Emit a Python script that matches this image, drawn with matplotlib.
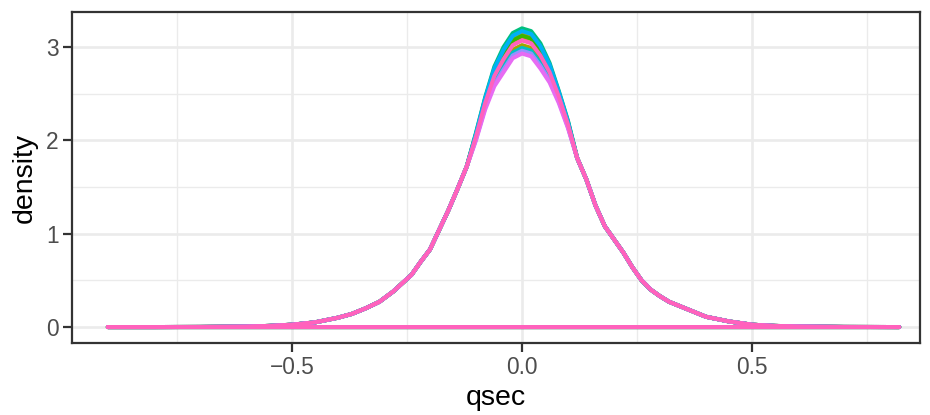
import matplotlib
matplotlib.use('Agg')
import matplotlib.pyplot as plt
from matplotlib.ticker import MultipleLocator

plt.rcParams['font.family'] = ['Liberation Sans', 'DejaVu Sans']

qsec_left = [-0.9, -0.8, -0.7, -0.6, -0.55, -0.5, -0.45, -0.4, -0.37, -0.34,
             -0.31, -0.28, -0.26, -0.24, -0.22, -0.2, -0.18, -0.16, -0.14, -0.12]
qsec_peak = [-0.1, -0.08, -0.06, -0.04, -0.02, 0.0, 0.02, 0.04, 0.06, 0.08, 0.1]
qsec_right = [0.12, 0.14, 0.16, 0.18, 0.2, 0.22, 0.24, 0.26, 0.28, 0.3, 0.32,
              0.34, 0.37, 0.4, 0.45, 0.5, 0.55, 0.6, 0.7, 0.82]

# the flanks of all groups coincide
dens_left = [0, 0, 0.001, 0.005, 0.012, 0.025, 0.05, 0.10, 0.14, 0.20,
             0.27, 0.38, 0.47, 0.56, 0.70, 0.83, 1.04, 1.25, 1.48, 1.72]
dens_right = [1.81, 1.58, 1.30, 1.08, 0.94, 0.80, 0.64, 0.50, 0.40, 0.33, 0.27,
              0.23, 0.17, 0.11, 0.06, 0.025, 0.012, 0.006, 0.001, 0]

# peak part of each group (ggplot hue colours, drawing order)
peak_f8766d = [2.05, 2.41, 2.71, 2.89, 3.04, 3.09, 3.06, 2.93, 2.75, 2.48, 2.18]
peak_d89000 = [2.06, 2.44, 2.75, 2.94, 3.09, 3.14, 3.11, 2.98, 2.79, 2.51, 2.19]
peak_a3a500 = [2.03, 2.38, 2.65, 2.82, 2.97, 3.02, 2.99, 2.86, 2.69, 2.45, 2.16]
peak_39b600 = [2.06, 2.42, 2.73, 2.92, 3.07, 3.12, 3.09, 2.96, 2.77, 2.49, 2.19]
peak_00bf7d = [2.08, 2.46, 2.79, 3.00, 3.15, 3.20, 3.17, 3.04, 2.83, 2.53, 2.21]
peak_00bfc4 = [2.02, 2.36, 2.63, 2.79, 2.94, 2.99, 2.96, 2.83, 2.67, 2.43, 2.15]
peak_00b0f6 = [2.07, 2.45, 2.77, 2.97, 3.12, 3.17, 3.14, 3.01, 2.81, 2.52, 2.20]
peak_9590ff = [2.01, 2.35, 2.60, 2.76, 2.91, 2.96, 2.93, 2.80, 2.64, 2.42, 2.14]
peak_e76bf3 = [2.00, 2.33, 2.58, 2.73, 2.88, 2.93, 2.90, 2.77, 2.62, 2.40, 2.13]
peak_ff62bc = [2.04, 2.40, 2.69, 2.87, 3.02, 3.07, 3.04, 2.91, 2.73, 2.47, 2.17]

groups = [
    ('#F8766D', peak_f8766d),
    ('#D89000', peak_d89000),
    ('#A3A500', peak_a3a500),
    ('#39B600', peak_39b600),
    ('#00BF7D', peak_00bf7d),
    ('#00BFC4', peak_00bfc4),
    ('#00B0F6', peak_00b0f6),
    ('#9590FF', peak_9590ff),
    ('#E76BF3', peak_e76bf3),
    ('#FF62BC', peak_ff62bc),
]

fig = plt.figure(figsize=(9.3, 4.15), dpi=100)
ax = fig.add_axes([0.0774, 0.1735, 0.9118, 0.7976])

qsec = qsec_left + qsec_peak + qsec_right
for color, peak in groups:
    dens = dens_left + peak + dens_right
    # closed outline like geom_density's polygon (curve + baseline)
    xs = qsec + [qsec[-1], qsec[0], qsec[0]]
    ys = dens + [0, 0, dens[0]]
    ax.plot(xs, ys, color=color, lw=2.9, solid_joinstyle='round',
            solid_capstyle='round', zorder=3)

ax.set_xlim(-0.978, 0.865)
ax.set_ylim(-0.171, 3.375)

ax.xaxis.set_minor_locator(MultipleLocator(0.25))
ax.yaxis.set_major_locator(MultipleLocator(1))
ax.yaxis.set_minor_locator(MultipleLocator(0.5))
ax.set_xticks([-0.5, 0, 0.5])
ax.set_xticklabels(['\u22120.5', '0.0', '0.5'])

ax.grid(which='major', color='#EBEBEB', lw=1.9, zorder=0)
ax.grid(which='minor', color='#EBEBEB', lw=0.95, zorder=0)
ax.set_axisbelow(True)

for sp in ax.spines.values():
    sp.set_color('#333333')
    sp.set_linewidth(1.6)

ax.tick_params(which='major', length=6.5, width=1.6, color='#333333',
               labelsize=16.4, labelcolor='#4D4D4D', pad=3)
ax.tick_params(which='minor', length=0)

ax.set_xlabel('qsec', fontsize=20.5, color='black', labelpad=4)
ax.set_ylabel('density', fontsize=20.5, color='black', labelpad=6)

fig.savefig('out.png', dpi=100)
